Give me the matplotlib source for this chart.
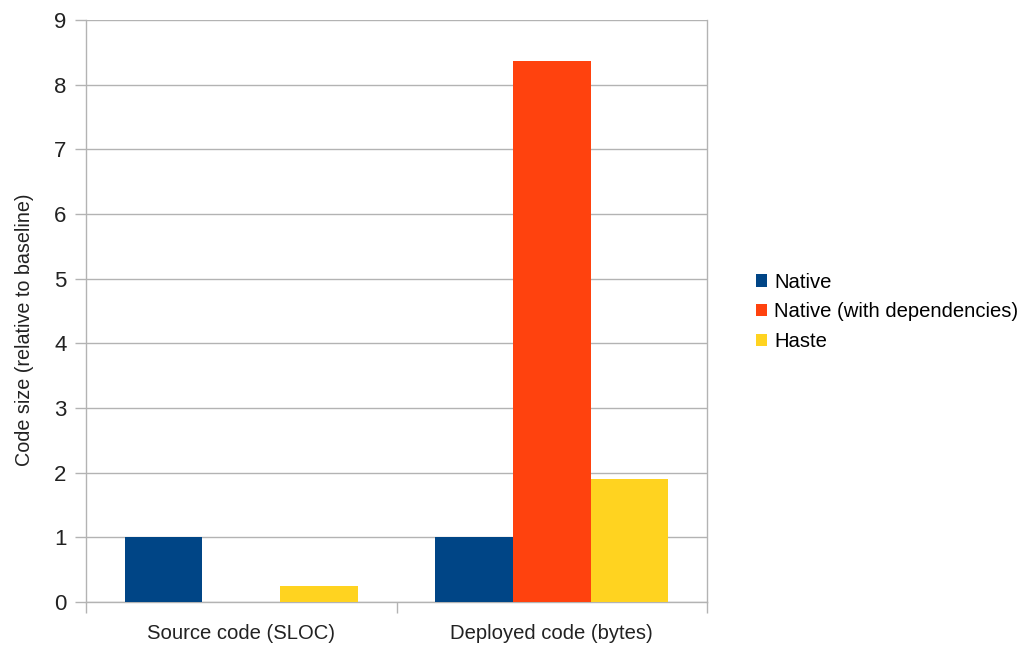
import matplotlib
matplotlib.use("Agg")
import matplotlib.pyplot as plt
from matplotlib.patches import Patch
import numpy as np

categories = ["Source code (SLOC)", "Deployed code (bytes)"]
series_names = ["Native", "Native (with dependencies)", "Haste"]
native = [1.0, 1.0]
native_deps = [0.0, 8.36]
haste = [0.25, 1.90]
colors = ["#004586", "#ff420e", "#ffd320"]
y_ticks = [0, 1, 2, 3, 4, 5, 6, 7, 8, 9]

plt.rcParams["font.family"] = ["Liberation Sans", "DejaVu Sans"]

fig = plt.figure(figsize=(10.25, 6.48), dpi=100)
ax = fig.add_axes([86 / 1025, 46 / 648, 621 / 1025, 582 / 648])

x = np.arange(len(categories))
width = 0.25
for i, (vals, col) in enumerate(zip([native, native_deps, haste], colors)):
    ax.bar(x + (i - 1) * width, vals, width, color=col, zorder=3, linewidth=0)

ax.set_xlim(-0.5, len(categories) - 0.5)
ax.set_ylim(0, 9)
ax.set_yticks(y_ticks)
ax.set_yticklabels([str(t) for t in y_ticks])
ax.yaxis.grid(True, color="#b3b3b3", linewidth=1, zorder=0)

# category labels centred under each group, tick marks at group boundaries
ax.set_xticks(np.arange(-0.5, len(categories)), minor=False)
ax.set_xticklabels([])
ax.set_xticks(x, minor=True)
ax.set_xticklabels(categories, minor=True, fontsize=14.6, color="#222222")
ax.tick_params(axis="x", which="minor", length=0, pad=16)
ax.tick_params(axis="x", which="major", length=8, color="#b3b3b3", width=1)
ax.tick_params(axis="y", length=8, color="#b3b3b3", width=1, labelsize=16,
               labelcolor="#222222", pad=6)

for side in ["left", "right", "bottom"]:
    ax.spines[side].set_color("#b3b3b3")
    ax.spines[side].set_linewidth(1)
ax.spines["top"].set_visible(False)

ax.set_ylabel("Code size (relative to baseline)", fontsize=14.2, color="#222222")
ax.yaxis.set_label_coords(-0.083, 0.467)

handles = [Patch(facecolor=c, edgecolor="none") for c in colors]
fig.legend(handles, series_names, loc="center left",
           bbox_to_anchor=(756 / 1025, 1 - 312 / 648), frameon=False,
           fontsize=14.6, handlelength=0.55, handleheight=0.55,
           handletextpad=0.35, labelspacing=0.53, borderaxespad=0,
           borderpad=0)

fig.savefig("out.png", dpi=100)
